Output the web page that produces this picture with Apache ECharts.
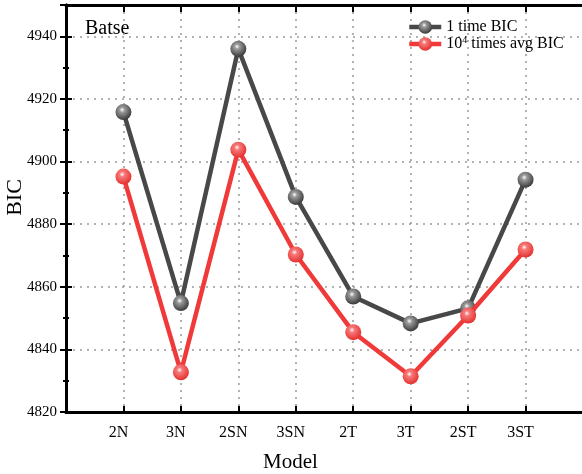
<!DOCTYPE html>
<html>
<head>
<meta charset="utf-8">
<script src="https://cdn.jsdelivr.net/npm/echarts@6/dist/echarts.min.js"></script>
<style>html,body{margin:0;padding:0;background:#fff;}#c{width:582px;height:474px;}</style>
</head>
<body>
<div id="c"></div>
<script>
const categories = ['2N','3N','2SN','3SN','2T','3T','2ST','3ST'];
const oneTimeBIC = [4915.8, 4854.8, 4936.0, 4888.7, 4856.9, 4848.3, 4853.1, 4894.2];
const avgBIC = [4895.2, 4832.7, 4903.8, 4870.3, 4845.5, 4831.4, 4850.8, 4871.9];
const yTicks = [4820, 4840, 4860, 4880, 4900, 4920, 4940];

const FONT = '"Liberation Serif", "DejaVu Serif", serif';
const chart = echarts.init(document.getElementById('c'), null, {renderer:'canvas'});

function pts(arr){ return arr.map((v,i)=>[i+1, v]); }
function sphere(c0, c1, c2){
  return {type:'radial', x:0.42, y:0.36, r:0.64, colorStops:[
    {offset:0, color:c0},{offset:0.25, color:c1},{offset:1, color:c2}]};
}
const axisBlack = {lineStyle:{color:'#000', width:3}};
const xLabel = v => (v>=1 && v<=categories.length && Number.isInteger(v)) ? categories[v-1] : '';

chart.setOption({
  animation:false,
  backgroundColor:'#fff',
  grid:{left:66, top:5, width:517, height:407, containLabel:false, outerBoundsMode:'none'},
  graphic:[{type:'text', left:85, top:19, style:{text:'Batse', font:'20px ' + FONT, fill:'#000'}}],
  legend:{
    left:407, top:19, padding:0, orient:'vertical', itemWidth:32, itemHeight:17, itemGap:0,
    lineStyle:{width:4.5},
    textStyle:{fontFamily:FONT, fontSize:16, color:'#000',
      rich:{n:{fontFamily:FONT, fontSize:16}, sup:{fontFamily:FONT, fontSize:10, verticalAlign:'top', padding:[0,0,8,0]}}},
    formatter: name => name === 'avg' ? '{n|10}{sup|4}{n| times avg BIC}' : '{n|1 time BIC}',
    data:['one','avg']
  },
  xAxis:[{
    type:'value', position:'bottom', min:0, max:9, interval:1,
    axisLine:axisBlack,
    axisTick:{inside:true, length:6, lineStyle:{color:'#000', width:2}},
    axisLabel:{formatter:xLabel, fontFamily:FONT, fontSize:16, color:'#000', margin:13, padding:[0,10,0,0]},
    splitLine:{show:true, lineStyle:{color:'#999', type:[2,5], width:1.5}},
    name:'Model', nameLocation:'middle', nameGap:40, nameMoveOverlap:false,
    nameTextStyle:{fontFamily:FONT, fontSize:21, color:'#000', padding:[0,68,0,0]}
  },{
    type:'value', position:'top', min:0, max:9, interval:1,
    axisLine:axisBlack,
    axisTick:{inside:true, length:7, lineStyle:{color:'#000', width:2}},
    axisLabel:{show:false}, splitLine:{show:false}
  }],
  yAxis:[{
    type:'value', position:'left', min:4820, max:4950, interval:20,
    axisLine:{show:true, lineStyle:{color:'#000', width:3}},
    axisTick:{inside:true, length:6, lineStyle:{color:'#000', width:2}},
    minorTick:{show:true, splitNumber:2, length:3, lineStyle:{color:'#000', width:2}},
    axisLabel:{formatter:v => yTicks.includes(v) ? String(v) : '', fontFamily:FONT, fontSize:15, color:'#000', margin:9},
    splitLine:{show:true, lineStyle:{color:'#999', type:[2,5], width:1.5}},
    name:'BIC', nameLocation:'middle', nameGap:40, nameRotate:90, nameMoveOverlap:false,
    nameTextStyle:{fontFamily:FONT, fontSize:22, color:'#000', padding:[0,0,0,22]}
  },{
    type:'value', position:'right', min:4820, max:4950, interval:20,
    axisLine:{show:true, lineStyle:{color:'#000', width:3}},
    axisTick:{inside:true, length:6, lineStyle:{color:'#000', width:2}},
    minorTick:{show:true, splitNumber:2, length:3, lineStyle:{color:'#000', width:2}},
    axisLabel:{show:false}, splitLine:{show:false}
  }],
  series:[{
    name:'one', type:'line', data:pts(oneTimeBIC),
    symbol:'circle', symbolSize:16,
    lineStyle:{color:'#484848', width:4.5},
    itemStyle:{color:sphere('#ffffff','#9a9a9a','#3a3a3a')},
    z:3
  },{
    name:'avg', type:'line', data:pts(avgBIC),
    symbol:'circle', symbolSize:16,
    lineStyle:{color:'#f03a3a', width:4.5},
    itemStyle:{color:sphere('#ffffff','#f77a7a','#e53030')},
    z:4
  }]
});
</script>
</body>
</html>
